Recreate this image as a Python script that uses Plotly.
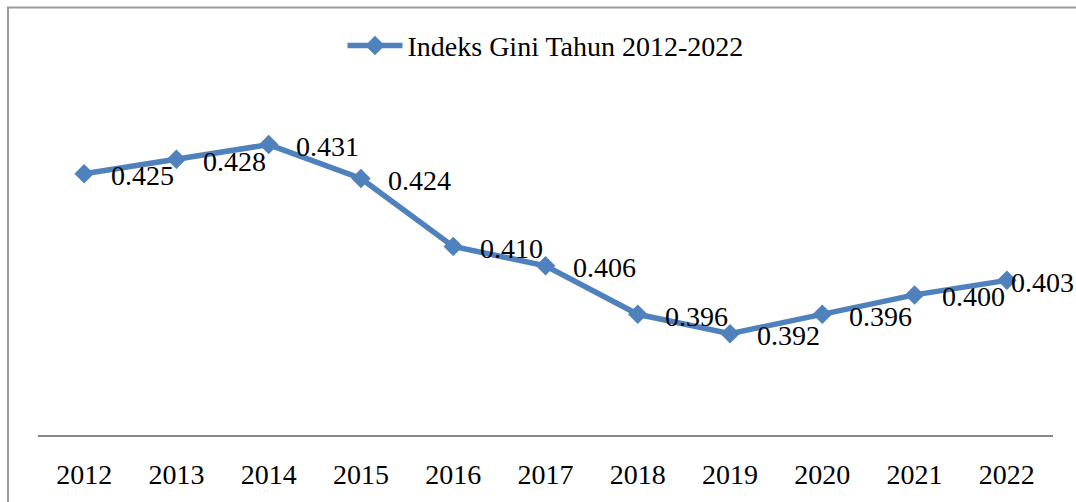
import plotly.graph_objects as go

years = ["2012", "2013", "2014", "2015", "2016", "2017", "2018", "2019", "2020", "2021", "2022"]
gini = [0.425, 0.428, 0.431, 0.424, 0.410, 0.406, 0.396, 0.392, 0.396, 0.400, 0.403]
labels = ["0.425", "0.428", "0.431", "0.424", "0.410", "0.406", "0.396", "0.392", "0.396", "0.400", "0.403"]
series_name = "Indeks Gini Tahun 2012-2022"

BLUE = "#4F81BD"
FONT = "Liberation Serif"
FS = 28

fig = go.Figure()
fig.add_trace(go.Scatter(
    x=years, y=gini, mode="lines+markers", name=series_name,
    line=dict(color=BLUE, width=5.5),
    marker=dict(symbol="diamond", size=15, color=BLUE),
))

annotations = []
for i, (v, t) in enumerate(zip(gini, labels)):
    last = i == len(years) - 1
    annotations.append(dict(
        x=i, y=v, xref="x", yref="y", text=t, showarrow=False,
        xanchor="left", yanchor="middle",
        xshift=2 if last else 25, yshift=-2,
        font=dict(family=FONT, size=FS, color="black"),
    ))

W, H = 1076, 502
ml, mr, mt, mb = 38, 23, 100, 62
pw, ph = W - ml - mr, H - mt - mb

fig.update_layout(
    width=W, height=H,
    margin=dict(l=ml, r=mr, t=mt, b=mb),
    paper_bgcolor="white", plot_bgcolor="white",
    font=dict(family=FONT, size=FS, color="black"),
    showlegend=True,
    legend=dict(orientation="h", x=0.5, xanchor="center", y=(H - mb - 45) / ph, yanchor="middle",
                font=dict(family=FONT, size=FS), itemwidth=55, bgcolor="rgba(0,0,0,0)"),
    xaxis=dict(type="category", range=[-0.5, 10.5], showgrid=False, zeroline=False,
               showline=True, linecolor="#868686", linewidth=2, ticks="",
               tickfont=dict(family=FONT, size=FS), ticklabelstandoff=13),
    yaxis=dict(range=[0.3711, 0.4402], visible=False, showgrid=False),
    annotations=annotations,
    shapes=[dict(type="rect", xref="paper", yref="paper",
                 x0=(8 - ml) / pw, x1=(W + 10 - ml) / pw,
                 y0=(H - mb - (H + 10)) / ph, y1=(H - mb - 6) / ph,
                 line=dict(color="#9a9a9a", width=2), fillcolor="rgba(0,0,0,0)", layer="below")],
)

fig.write_html("out.html")
